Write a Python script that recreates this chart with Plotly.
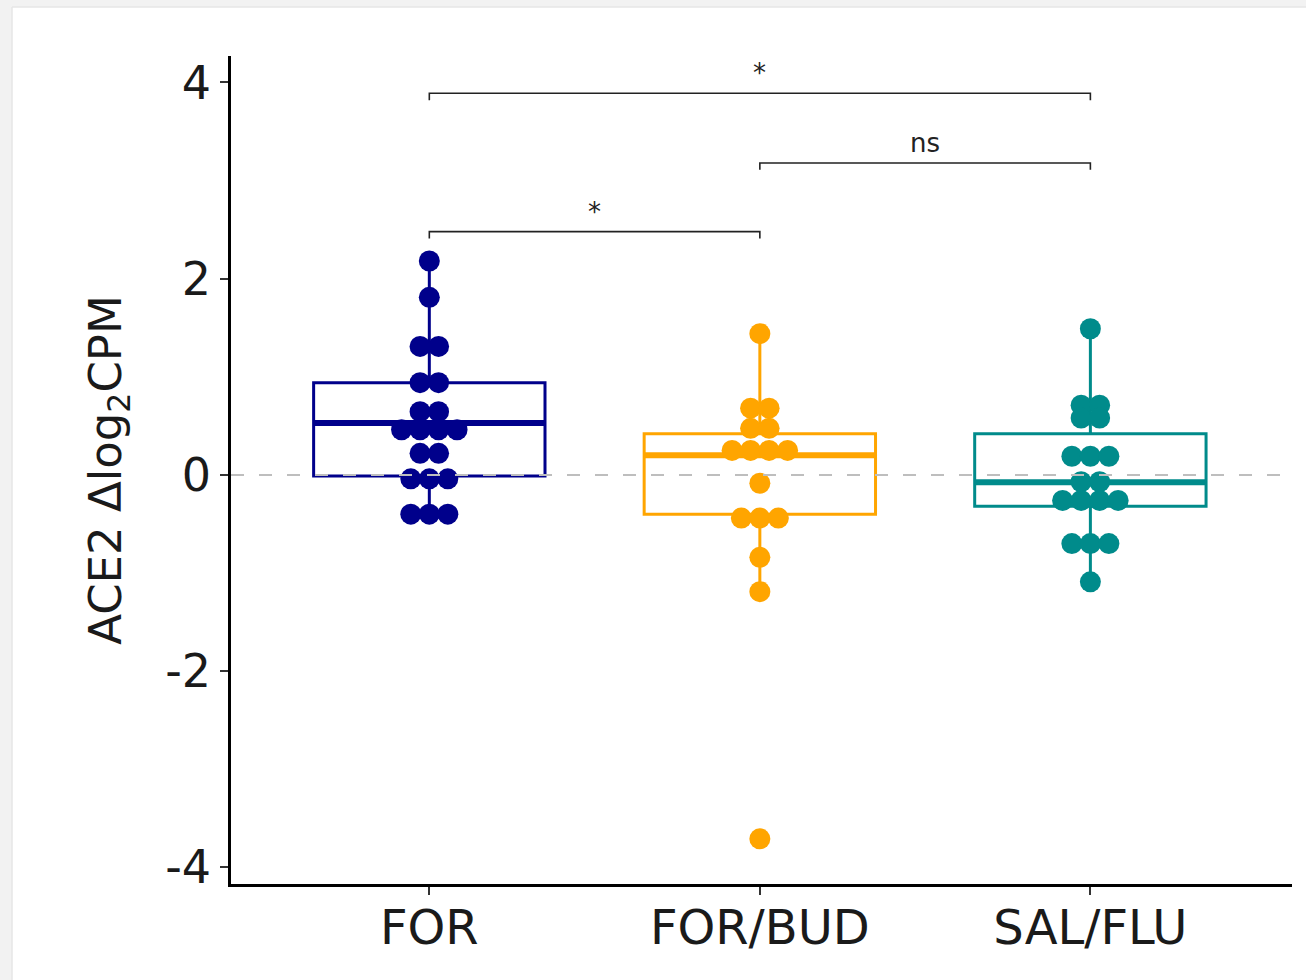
import plotly.graph_objects as go

# ---------------- data ----------------
groups = ["FOR", "FOR/BUD", "SAL/FLU"]
colors = ["#00008B", "#FFA500", "#008B8B"]

for_vals = [2.18, 1.81, 1.31, 1.31, 0.94, 0.94, 0.645, 0.645,
            0.46, 0.46, 0.46, 0.46, 0.22, 0.22,
            -0.04, -0.04, -0.04, -0.40, -0.40, -0.40]
forbud_vals = [1.44, 0.68, 0.68, 0.475, 0.475, 0.25, 0.25, 0.25, 0.25,
               -0.085, -0.44, -0.44, -0.44, -0.84, -1.19, -3.71]
salflu_vals = [1.49, 0.71, 0.71, 0.58, 0.58, 0.19, 0.19, 0.19,
               -0.07, -0.07, -0.26, -0.26, -0.26, -0.26,
               -0.70, -0.70, -0.70, -1.09]
group_vals = [for_vals, forbud_vals, salflu_vals]

box_q1 = [-0.01, -0.40, -0.32]
box_median = [0.53, 0.20, -0.075]
box_q3 = [0.94, 0.42, 0.42]
box_lower = [-0.40, -1.19, -1.08]
box_upper = [2.18, 1.44, 1.49]

# significance brackets: (from group, to group, label, height)
comparisons = [(0, 2, "*", 3.89), (1, 2, "ns", 3.18), (0, 1, "*", 2.48)]

ytick_vals = [-4, -2, 0, 2, 4]
ytick_text = ["-4", "-2", "0", "2", "4"]

# ---------------- layout constants ----------------
W, H = 1306, 980
L, R, T, B = 231, 14, 56, 96
BOXW = 0.7
DOT_STEP = 0.056
FONT = "DejaVu Sans"

fig = go.Figure()

# boxes
for i, g in enumerate(groups):
    fig.add_trace(go.Box(
        x=[i], q1=[box_q1[i]], median=[box_median[i]], q3=[box_q3[i]],
        lowerfence=[box_lower[i]], upperfence=[box_upper[i]],
        width=BOXW, boxpoints=False, whiskerwidth=0,
        line=dict(color=colors[i], width=3),
        fillcolor="rgba(255,255,255,0)", showlegend=False, hoverinfo="skip"))
    # thicker median
    fig.add_trace(go.Scatter(
        x=[i - BOXW / 2, i + BOXW / 2], y=[box_median[i], box_median[i]],
        mode="lines", line=dict(color=colors[i], width=6),
        showlegend=False, hoverinfo="skip"))

# dots (centered stacks)
for i, vals in enumerate(group_vals):
    counts = {}
    for v in vals:
        counts[v] = counts.get(v, 0) + 1
    xs, ys = [], []
    for v, n in counts.items():
        for k in range(n):
            xs.append(i + (k - (n - 1) / 2) * DOT_STEP)
            ys.append(v)
    fig.add_trace(go.Scatter(
        x=xs, y=ys, mode="markers",
        marker=dict(color=colors[i], size=21, line=dict(width=0)),
        showlegend=False, hoverinfo="skip"))

shapes = []
# zero reference line
shapes.append(dict(type="line", xref="paper", yref="y", x0=0, x1=1, y0=0, y1=0,
                   line=dict(color="#BEBEBE", width=2, dash="13px,15px"), layer="above"))

annotations = []
tick_drop = 0.07
for a, b, lab, h in comparisons:
    shapes.append(dict(type="path", xref="x", yref="y",
                       path=f"M {a},{h - tick_drop} L {a},{h} L {b},{h} L {b},{h - tick_drop}",
                       line=dict(color="#222222", width=1.6)))
    annotations.append(dict(x=(a + b) / 2, y=h, xref="x", yref="y", text=lab,
                            showarrow=False, yanchor="bottom", yshift=3,
                            font=dict(family=FONT, size=26, color="#222222")))

# screenshot frame (light gray strips top / left)
pw, ph = W - L - R, H - T - B
def xp(px):
    return (px - L) / pw
def yp(py):
    return (H - B - py) / ph
shapes.append(dict(type="rect", xref="paper", yref="paper", x0=xp(0), x1=xp(12),
                   y0=yp(H), y1=yp(0), fillcolor="#F2F2F2", line=dict(width=0), layer="below"))
shapes.append(dict(type="rect", xref="paper", yref="paper", x0=xp(0), x1=xp(W),
                   y0=yp(7), y1=yp(0), fillcolor="#F2F2F2", line=dict(width=0), layer="below"))
shapes.append(dict(type="line", xref="paper", yref="paper", x0=xp(12), x1=xp(12),
                   y0=yp(H), y1=yp(7), line=dict(color="#E6E6E6", width=1.5), layer="below"))
shapes.append(dict(type="line", xref="paper", yref="paper", x0=xp(12), x1=xp(W),
                   y0=yp(7), y1=yp(7), line=dict(color="#E6E6E6", width=1.5), layer="below"))

fig.update_layout(
    width=W, height=H,
    margin=dict(l=L, r=R, t=T, b=B, pad=0),
    paper_bgcolor="white", plot_bgcolor="white",
    shapes=shapes, annotations=annotations,
    font=dict(family=FONT, color="#1a1a1a"),
    xaxis=dict(range=[-0.6, 2.61], tickvals=[0, 1, 2], ticktext=groups,
               showgrid=False, zeroline=False, showline=True, linecolor="black",
               linewidth=2.5, ticks="outside", ticklen=8, tickwidth=2, tickcolor="#333333",
               ticklabelstandoff=-8,
               tickfont=dict(family=FONT, size=48, color="#1a1a1a")),
    yaxis=dict(range=[-4.17, 4.27], tickvals=ytick_vals, ticktext=ytick_text,
               showgrid=False, zeroline=False, showline=True, linecolor="black",
               linewidth=2.5, ticks="outside", ticklen=8, tickwidth=2, tickcolor="#333333",
               tickfont=dict(family=FONT, size=46, color="#1a1a1a"),
               title=dict(text="ACE2 Δlog<sub>2</sub>CPM", standoff=30,
                          font=dict(family=FONT, size=45, color="#1a1a1a"))),
)

fig.write_html("out.html")
